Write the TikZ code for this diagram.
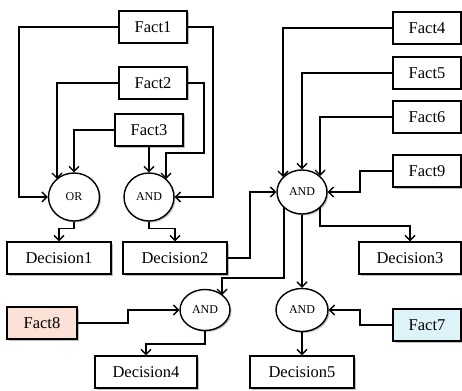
\documentclass[tikz,border=0pt]{standalone}
\usepackage{fontspec}
\setmainfont{Liberation Serif}
\usetikzlibrary{arrows.meta,shapes.geometric,shadows}
\begin{document}
\begin{tikzpicture}[x=1pt,y=-1pt,
  shd/.style={drop shadow={shadow xshift=1.5pt,shadow yshift=-1.5pt,opacity=0.25,fill=black}},
  fbox/.style={draw,line width=1.4pt,fill=white,shd,rectangle,minimum width=68pt,minimum height=32pt,inner sep=0pt,font=\fontsize{16.5}{19}\selectfont},
  dbox/.style={fbox,minimum width=104pt},
  gate/.style={draw,line width=1.4pt,fill=white,shd,ellipse,inner sep=0pt,font=\fontsize{12}{14}\selectfont},
  arr/.style={line width=1.5pt,-{Straight Barb[length=5pt,width=10pt,line width=1.4pt]}}
]
\useasboundingbox (0,0) rectangle (462,390);
% facts
\node[fbox] (f1) at (153,27) {Fact1};
\node[fbox] (f2) at (153,83) {Fact2};
\node[fbox] (f3) at (149,130) {Fact3};
\node[fbox] (f4) at (427,28) {Fact4};
\node[fbox] (f5) at (427,73) {Fact5};
\node[fbox] (f6) at (427,117) {Fact6};
\node[fbox] (f9) at (427,171) {Fact9};
\node[fbox,fill={rgb,255:red,252;green,226;blue,214},minimum width=70pt] (f8) at (42,323) {Fact8};
\node[fbox,fill={rgb,255:red,221;green,243;blue,249}] (f7) at (427,325) {Fact7};
% gates
\node[gate,minimum width=51pt,minimum height=48pt] (or) at (74,197) {OR};
\node[gate,minimum width=50pt,minimum height=48pt] (and1) at (149,197) {AND};
\node[gate,minimum width=50pt,minimum height=44pt] (andm) at (302,192) {AND};
\node[gate,minimum width=50pt,minimum height=41pt] (and3) at (205,310) {AND};
\node[gate,minimum width=52pt,minimum height=43pt] (and4) at (302,310) {AND};
% decisions
\node[dbox] (d1) at (59,258) {Decision1};
\node[dbox] (d2) at (175,258) {Decision2};
\node[dbox,minimum width=102pt] (d3) at (410,258) {Decision3};
\node[dbox,minimum width=102pt] (d4) at (146,372) {Decision4};
\node[dbox] (d5) at (302,372) {Decision5};
% points on the ellipse borders
\coordinate (orA) at (57,179);
\coordinate (andA) at (166,179);
\coordinate (mA) at (283,177);
\coordinate (mB) at (320,176);
\coordinate (mC) at (284,207);
\coordinate (mD) at (320,207);
\coordinate (b3) at (222,295);
% connectors to OR and AND1
\draw[arr] (f1.west) -| (19,197) -- (or.west);
\draw[arr] (f1.east) -| (213,197) -- (and1.east);
\draw[arr] (f2.west) -| (orA);
\draw[arr] (f2.east) -| (204,153) -| (andA);
\draw[arr] (f3.west) -| (or.north);
\draw[arr] (f3.south) -- (and1.north);
\draw[arr] (or.south) -- ++(0,7) -| (d1.north);
\draw[arr] (and1.south) -- ++(0,7) -| (d2.north);
% middle AND
\draw[arr] (f4.west) -| (mA);
\draw[arr] (f5.west) -| (andm.north);
\draw[arr] (f6.west) -| (mB);
\draw[arr] (f9.west) -| (360,192) -- (andm.east);
\draw[arr] (d2.east) -| (250,192) -- (andm.west);
\draw[arr] (mD) |- (410,226) -- (d3.north);
\draw[arr] (mC) |- (222,278) -- (b3);
\draw[arr] (andm.south) -- (and4.north);
% bottom
\draw[arr] (f8.east) -| (128,310) -- (and3.west);
\draw[arr] (f7.west) -| (360,310) -- (and4.east);
\draw[arr] (and3.south) -- ++(0,13) -| (d4.north);
\draw[arr] (and4.south) -- (d5.north);
\end{tikzpicture}
\end{document}
